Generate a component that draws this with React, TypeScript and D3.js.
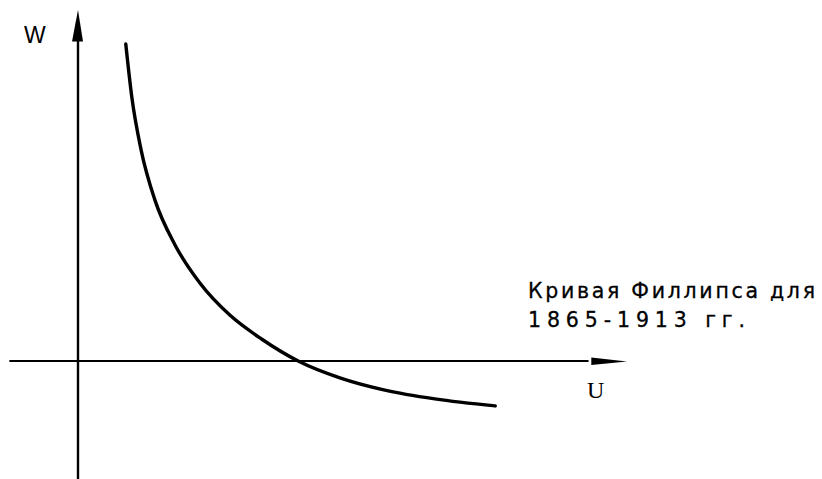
import { useEffect, useRef } from 'react';
import * as d3 from 'd3';

// curve points (U, W in axis units)
const curveU = [0.87, 0.98, 1.15, 1.4, 1.77, 2.22, 2.77, 3.35, 4.01, 4.77, 5.59, 6.5, 7.6];
const curveW = [9.03, 7.52, 6.01, 4.59, 3.3, 2.22, 1.3, 0.62, 0, -0.48, -0.83, -1.08, -1.28];

const axisLabels = { x: 'U', y: 'W' };
const captionLines = ['Кривая Филлипса для', '1865-1913 гг.'];

const WIDTH = 822;
const HEIGHT = 479;

export default function App() {
  const ref = useRef<SVGSVGElement>(null);

  useEffect(() => {
    const svg = d3.select(ref.current);
    svg.selectAll('*').remove();

    // origin at (78, 361)
    const x = d3.scaleLinear().domain([0, 10]).range([78, 627]);
    const y = d3.scaleLinear().domain([0, 10]).range([361, 10]);

    // x axis, running a little left of the origin
    svg
      .append('line')
      .attr('x1', x(-1.25))
      .attr('x2', x(9.3))
      .attr('y1', y(0))
      .attr('y2', y(0))
      .attr('stroke', '#000')
      .attr('stroke-width', 2.2);

    // x arrow head, thin and long
    svg
      .append('path')
      .attr(
        'd',
        `M${x(9.35)},${y(0) - 3.5} L${x(10)},${y(0) + 0.5} L${x(9.35)},${y(0) + 4} Z`
      )
      .attr('fill', '#000');

    // y axis, down to the bottom edge
    svg
      .append('line')
      .attr('x1', x(0))
      .attr('x2', x(0))
      .attr('y1', y(9.4))
      .attr('y2', HEIGHT)
      .attr('stroke', '#000')
      .attr('stroke-width', 2.4);

    svg
      .append('path')
      .attr('d', `M${x(0)},${y(10)} L${x(0) + 5},${y(9.1)} L${x(0) - 6},${y(9.1)} Z`)
      .attr('fill', '#000');

    // the curve
    const pts: [number, number][] = curveU.map((u, i) => [u, curveW[i]]);
    const line = d3
      .line<[number, number]>()
      .x((d) => x(d[0]))
      .y((d) => y(d[1]))
      .curve(d3.curveMonotoneX);

    svg
      .append('path')
      .datum(pts)
      .attr('d', line)
      .attr('fill', 'none')
      .attr('stroke', '#000')
      .attr('stroke-width', 3.4)
      .attr('stroke-linecap', 'round');

    // labels
    svg
      .append('text')
      .attr('x', 24)
      .attr('y', 43)
      .attr('font-family', 'Liberation Sans, sans-serif')
      .attr('font-size', 23)
      .text(axisLabels.y);

    svg
      .append('text')
      .attr('x', 587)
      .attr('y', 398)
      .attr('font-family', 'Liberation Serif, serif')
      .attr('font-size', 24)
      .text(axisLabels.x);

    const caption = svg
      .append('g')
      .attr('font-family', 'DejaVu Sans, sans-serif')
      .attr('font-size', 20.5)
      .attr('fill', '#000')
      .attr('stroke', '#000')
      .attr('stroke-width', 0.3);

    caption
      .append('text')
      .attr('x', 528)
      .attr('y', 298)
      .attr('textLength', 287)
      .attr('lengthAdjust', 'spacing')
      .text(captionLines[0]);

    caption
      .append('text')
      .attr('x', 528)
      .attr('y', 327)
      .attr('textLength', 217)
      .attr('lengthAdjust', 'spacing')
      .text(captionLines[1]);
  }, []);

  return (
    <svg
      ref={ref}
      width={WIDTH}
      height={HEIGHT}
      style={{ position: 'absolute', left: 0, top: 0, background: '#fff' }}
    />
  );
}
